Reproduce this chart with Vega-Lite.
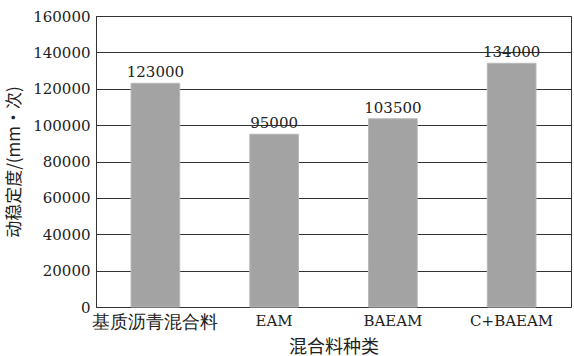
{
  "$schema": "https://vega.github.io/schema/vega-lite/v6.json",
  "width": 475,
  "height": 291,
  "autosize": {"type": "none"},
  "padding": {"left": 96, "top": 16, "right": 3, "bottom": 49},
  "background": "white",
  "config": {
    "font": "DejaVu Serif",
    "view": {"stroke": "#333", "strokeWidth": 1},
    "axis": {
      "labelFont": "DejaVu Serif",
      "titleFont": "Noto Sans CJK SC",
      "labelColor": "#222",
      "titleColor": "#222",
      "titleFontWeight": "normal",
      "domainColor": "#333",
      "gridColor": "#333",
      "gridOpacity": 1
    }
  },
  "data": {
    "values": [
      {"type": "基质沥青混合料", "value": 123000},
      {"type": "EAM", "value": 95000},
      {"type": "BAEAM", "value": 103500},
      {"type": "C+BAEAM", "value": 134000}
    ]
  },
  "encoding": {
    "x": {
      "field": "type",
      "type": "nominal",
      "sort": null,
      "scale": {"paddingInner": 0.59, "paddingOuter": 0.295},
      "axis": {
        "title": "混合料种类",
        "labelAngle": 0,
        "ticks": false,
        "labelPadding": 6,
        "labelFontSize": {"condition": {"test": "datum.value === '基质沥青混合料'", "value": 18}, "value": 15},
        "titleFontSize": 18,
        "titlePadding": 7
      }
    },
    "y": {
      "field": "value",
      "type": "quantitative",
      "scale": {"domain": [0, 160000]},
      "axis": {
        "title": "动稳定度/(mm·次)",
        "values": [0, 20000, 40000, 60000, 80000, 100000, 120000, 140000, 160000],
        "format": "d",
        "ticks": false,
        "labelPadding": 6,
        "labelFontSize": 15,
        "titleFontSize": 17,
        "titlePadding": 9,
        "grid": true
      }
    }
  },
  "layer": [
    {
      "mark": {"type": "bar", "fill": "#a3a3a3", "stroke": "#b8b8b8", "strokeWidth": 1}
    },
    {
      "mark": {"type": "text", "baseline": "bottom", "dy": -3, "fontSize": 15, "color": "#222", "font": "DejaVu Serif"},
      "encoding": {"text": {"field": "value", "type": "quantitative", "format": "d"}}
    }
  ]
}
